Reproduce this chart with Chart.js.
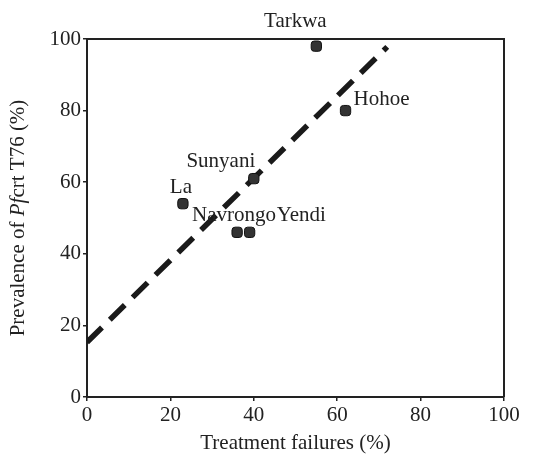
<!DOCTYPE html>
<html>
<head>
<meta charset="utf-8">
<script src="https://cdn.jsdelivr.net/npm/chart.js@4"></script>
<style>
html, body { margin: 0; padding: 0; background: #fff; }
#wrap { width: 533px; height: 464px; }
</style>
</head>
<body>
<div id="wrap"><canvas id="chart" width="533" height="464"></canvas></div>
<script>
// sites and their values
const sites = ['Tarkwa', 'Hohoe', 'Sunyani', 'La', 'Navrongo', 'Yendi'];
const failures = [55, 62, 40, 23, 36, 39];
const prevalence = [98, 80, 61, 54, 46, 46];

// fitted trend line end points
const trendX = [0, 72];
const trendY = [15.3, 97.8];

const tickValues = [0, 20, 40, 60, 80, 100];

const ink = '#222';
const serif = '"Liberation Serif", "DejaVu Serif", serif';

// where each site name sits relative to its marker (pixels)
const labelPlace = {
    Tarkwa: { dx: -21, dy: -25, align: 'center' },
    Hohoe: { dx: 8, dy: -11, align: 'left' },
    Sunyani: { dx: -33, dy: -17, align: 'center' },
    La: { dx: -2, dy: -16, align: 'center' },
    Navrongo: { dx: -45, dy: -17, align: 'left' },
    Yendi: { dx: 27, dy: -17, align: 'left' }
};

const annotate = {
    id: 'annotate',
    afterDatasetsDraw(chart) {
        const ctx = chart.ctx;
        const area = chart.chartArea;
        const xs = chart.scales.x;
        const ys = chart.scales.y;

        // box: top and right edges (left/bottom come from the axes)
        ctx.save();
        ctx.strokeStyle = ink;
        ctx.lineWidth = 2;
        ctx.beginPath();
        ctx.moveTo(area.left, area.top);
        ctx.lineTo(area.right, area.top);
        ctx.lineTo(area.right, area.bottom);
        ctx.stroke();

        // site names
        ctx.fillStyle = ink;
        ctx.font = '21px ' + serif;
        ctx.textBaseline = 'middle';
        sites.forEach((name, i) => {
            const p = labelPlace[name];
            const px = xs.getPixelForValue(failures[i]);
            const py = ys.getPixelForValue(prevalence[i]);
            ctx.textAlign = p.align;
            ctx.fillText(name, px + p.dx, py + p.dy);
        });

        // x title
        ctx.textAlign = 'center';
        ctx.fillText('Treatment failures (%)', (area.left + area.right) / 2, 443);

        // y title with italic Pf
        const parts = [
            ['Prevalence of ', ''],
            ['Pf', 'italic '],
            ['crt T76 (%)', '']
        ];
        let total = 0;
        parts.forEach(([t, st]) => {
            ctx.font = st + '21px ' + serif;
            total += ctx.measureText(t).width;
        });
        ctx.translate(18, (area.top + area.bottom) / 2);
        ctx.rotate(-Math.PI / 2);
        ctx.textAlign = 'left';
        let x = -total / 2;
        parts.forEach(([t, st]) => {
            ctx.font = st + '21px ' + serif;
            ctx.fillText(t, x, 0);
            x += ctx.measureText(t).width;
        });
        ctx.restore();
    }
};

function axis(extra) {
    return Object.assign({
        type: 'linear',
        min: 0,
        max: 100,
        afterBuildTicks: (scale) => {
            scale.ticks = tickValues.map(v => ({ value: v }));
        },
        border: { display: true, color: ink, width: 2 },
        grid: {
            display: true,
            drawOnChartArea: false,
            drawTicks: true,
            tickLength: 4,
            color: ink,
            lineWidth: 1.5
        },
        ticks: {
            color: ink,
            font: { family: serif, size: 21 },
            padding: 2
        }
    }, extra);
}

new Chart(document.getElementById('chart'), {
    type: 'scatter',
    data: {
        datasets: [
            {
                label: 'Sites',
                data: failures.map((f, i) => ({ x: f, y: prevalence[i] })),
                pointStyle: 'rectRounded',
                pointRadius: 6,
                backgroundColor: '#333',
                borderColor: '#111',
                borderWidth: 1
            },
            {
                type: 'line',
                label: 'Trend',
                data: trendX.map((x, i) => ({ x: x, y: trendY[i] })),
                borderColor: '#1a1a1a',
                borderWidth: 5.5,
                borderDash: [21, 11],
                pointRadius: 0,
                fill: false
            }
        ]
    },
    options: {
        responsive: false,
        animation: false,
        layout: { padding: { left: 0, top: 39, right: 29, bottom: 0 } },
        plugins: {
            legend: { display: false },
            tooltip: { enabled: false }
        },
        scales: {
            x: axis({
                afterFit: (scale) => { scale.height = 67; }
            }),
            y: axis({
                afterFit: (scale) => { scale.width = 87; }
            })
        }
    },
    plugins: [annotate]
});
</script>
</body>
</html>
